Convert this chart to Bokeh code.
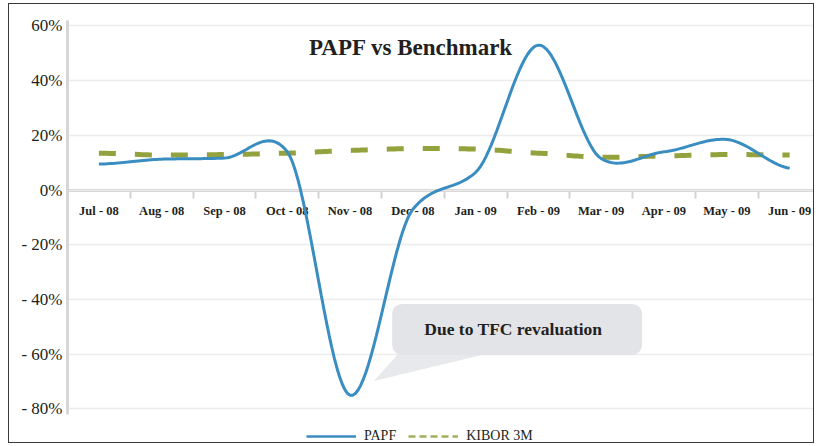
from bokeh.plotting import figure
from bokeh.models import (Range1d, FixedTicker, Legend, LegendItem, Label,
                          BoxAnnotation, PolyAnnotation)
from bokeh.embed import file_html
from bokeh.resources import INLINE

# ---------------- data ----------------
categories = ["Jul - 08", "Aug - 08", "Sep - 08", "Oct - 08", "Nov - 08", "Dec - 08",
              "Jan - 09", "Feb - 09", "Mar - 09", "Apr - 09", "May - 09", "Jun - 09"]
papf = [9.5, 11.3, 11.7, 14.0, -75.0, -7.0, 6.5, 53.0, 11.5, 14.0, 18.5, 8.0]
kibor = [13.5, 12.8, 13.0, 13.5, 14.5, 15.2, 15.0, 13.5, 12.0, 12.5, 13.0, 12.8]
y_ticks = [-80, -60, -40, -20, 0, 20, 40, 60]
y_tick_labels = ["- 80%", "- 60%", "- 40%", "- 20%", "0%", "20%", "40%", "60%"]
title_text = "PAPF vs Benchmark"
callout_text = "Due to TFC revaluation"

SERIF = "Liberation Serif"
DARK = "#231f20"
BLUE = "#3a8dc1"
OLIVE = "#94a23e"
NAN = float("nan")


def smooth(vals, k=0.7, n=24):
    """Cubic Hermite (Catmull-Rom style) smoothing like a spreadsheet 'smoothed line'."""
    N = len(vals)
    tang = []
    for i in range(N):
        a = vals[i - 1] if i > 0 else vals[i]
        b = vals[i + 1] if i < N - 1 else vals[i]
        tang.append(k * (b - a) / 2.0)
    xs, ys = [], []
    for i in range(N - 1):
        p0, p1, m0, m1 = vals[i], vals[i + 1], tang[i], tang[i + 1]
        for j in range(n):
            t = j / n
            h00 = 2 * t**3 - 3 * t**2 + 1
            h10 = t**3 - 2 * t**2 + t
            h01 = -2 * t**3 + 3 * t**2
            h11 = t**3 - t**2
            xs.append(i + t)
            ys.append(h00 * p0 + h10 * m0 + h01 * p1 + h11 * m1)
    xs.append(N - 1)
    ys.append(vals[-1])
    return xs, ys


idx = list(range(len(categories)))

p = figure(width=806, height=440, x_range=Range1d(-0.5, 11.38), y_range=Range1d(-93, 62),
           output_backend="svg", toolbar_location=None,
           min_border_left=58, min_border_right=2, min_border_top=16, min_border_bottom=0)
p.styles = {"border": "1.5px solid #3a3a3a", "margin-left": "8px", "margin-top": "3px"}
p.outline_line_color = None
p.background_fill_color = "white"
p.border_fill_color = "white"

# grid
p.xgrid.visible = False
p.ygrid.grid_line_color = "#ececec"
p.ygrid.grid_line_width = 1.5

# y axis
p.yaxis.ticker = FixedTicker(ticks=y_ticks)
p.yaxis.major_label_overrides = dict(zip(y_ticks, y_tick_labels))
p.yaxis.bounds = (-82, 62)
p.yaxis.axis_line_color = "#d6d6d6"
p.yaxis.axis_line_width = 3
p.yaxis.major_tick_out = 0
p.yaxis.major_tick_in = 0
p.yaxis.minor_tick_out = 0
p.yaxis.minor_tick_in = 0
p.yaxis.major_label_text_font = SERIF
p.yaxis.major_label_text_font_size = "17px"
p.yaxis.major_label_text_color = DARK
p.yaxis.major_label_standoff = 5

# x axis at 0
p.xaxis.ticker = FixedTicker(ticks=idx, minor_ticks=[i - 0.5 for i in range(len(categories) + 1)])
p.xaxis.major_label_overrides = dict(zip(idx, categories))
p.xaxis.fixed_location = 0
p.xaxis.axis_line_color = "#d2d2d2"
p.xaxis.axis_line_width = 3
p.xaxis.major_tick_out = 0
p.xaxis.major_tick_in = 0
p.xaxis.minor_tick_out = 8
p.xaxis.minor_tick_in = 0
p.xaxis.minor_tick_line_color = "#d2d2d2"
p.xaxis.minor_tick_line_width = 2
p.xaxis.major_label_standoff = 6
p.xaxis.major_label_text_font = SERIF
p.xaxis.major_label_text_font_size = "12.5px"
p.xaxis.major_label_text_font_style = "bold"
p.xaxis.major_label_text_color = DARK
p.xaxis.level = "underlay"

# series
kx, ky = smooth(kibor)
r_kibor = p.line(kx, ky, line_color=OLIVE, line_width=5, line_dash="17 19")
px_, py_ = smooth(papf)
r_papf = p.line(px_, py_, line_color=BLUE, line_width=3)

# legend swatches (thinner, like the reference's key); no visible data
key_papf = p.line(x=idx[:2], y=[NAN, NAN], line_color=BLUE, line_width=2.5)
key_kibor = p.line(x=idx[:2], y=[NAN, NAN], line_color="#a4ae5c", line_width=2.5,
                   line_dash="7 4")

# title inside plot
p.add_layout(Label(x=4.97, y=52, text=title_text, text_align="center", text_baseline="middle",
                   text_font=SERIF, text_font_size="23px", text_font_style="bold",
                   text_color=DARK))

# callout
nov = categories.index("Nov - 08")
p.add_layout(PolyAnnotation(xs=[nov + 0.38, nov + 0.75, nov + 2.1],
                            ys=[papf[nov] + 5.2, -60.3, -60.3],
                            fill_color="#e6e7ea", fill_alpha=0.9, line_color=None))
p.add_layout(BoxAnnotation(left=nov + 0.67, right=nov + 4.65, top=-41.6, bottom=-60.3,
                           fill_color="#e3e4e7", fill_alpha=1.0, line_color=None,
                           border_radius=10))
p.add_layout(Label(x=nov + 2.6, y=-50.7, text=callout_text, text_align="center",
                   text_baseline="middle", text_font=SERIF, text_font_size="17.5px",
                   text_font_style="bold", text_color=DARK))

# legend at the bottom of the plot area
legend = Legend(items=[LegendItem(label="PAPF", renderers=[key_papf]),
                       LegendItem(label="KIBOR 3M", renderers=[key_kibor])],
                orientation="horizontal", location=(239, 0),
                glyph_width=50, glyph_height=14, label_height=14, label_standoff=8,
                spacing=12, padding=0, margin=0,
                label_text_font=SERIF, label_text_font_size="14px", label_text_color=DARK,
                background_fill_alpha=0, border_line_color=None)
p.add_layout(legend)

open("out.html", "w").write(file_html(p, INLINE))
